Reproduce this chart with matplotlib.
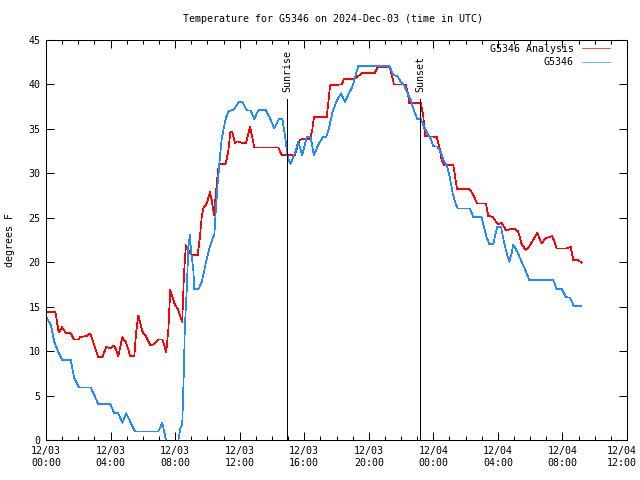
import matplotlib
matplotlib.use("Agg")
import matplotlib.pyplot as plt
from matplotlib.ticker import MultipleLocator
import matplotlib.transforms as mtransforms

# hours since 2024-12-03 00:00 UTC
analysis_t = [0.0, 0.58, 0.79, 0.99, 1.24, 1.53, 1.75, 2.0, 2.13, 2.52, 2.74, 2.99, 3.24, 3.49, 3.74,
              3.98, 4.23, 4.48, 4.73, 4.97, 5.22, 5.47, 5.59, 5.72, 5.97, 6.21, 6.46, 6.71, 6.96, 7.21,
              7.45, 7.58, 7.70, 7.95, 8.20, 8.44, 8.55, 8.67, 8.82, 8.92, 9.13, 9.40, 9.54, 9.65, 9.75,
              9.96, 10.16, 10.27, 10.41, 10.51, 10.64, 10.72, 11.13, 11.29, 11.42, 11.54, 11.71, 11.85,
              12.12, 12.39, 12.64, 12.91, 14.39, 14.60, 15.43, 15.57, 15.74, 15.94, 16.36, 16.50, 16.60,
              17.39, 17.53, 17.60, 18.32, 18.46, 19.08, 19.62, 20.38, 20.53, 21.31, 21.45, 21.56, 22.30,
              22.45, 22.51, 23.22, 23.38, 23.48, 24.21, 24.37, 24.51, 24.68, 25.24, 25.38, 25.48, 26.27,
              26.52, 26.72, 27.26, 27.40, 27.68, 27.99, 28.23, 28.50, 29.00, 29.26, 29.47, 29.72, 29.94,
              30.44, 30.71, 30.96, 31.37, 31.64, 32.26, 32.51, 32.67, 32.94, 33.19]
analysis_v = [14.4, 14.4, 12.1, 12.7, 12.0, 12.0, 11.3, 11.3, 11.6, 11.7, 12.0, 10.7, 9.3, 9.3, 10.5,
              10.3, 10.65, 9.45, 11.55, 10.95, 9.45, 9.45, 12.2, 14.0, 12.2, 11.6, 10.65, 10.8, 11.3, 11.3,
              9.9, 12.4, 16.9, 15.4, 14.6, 13.3, 18.7, 21.9, 21.4, 21.0, 20.8, 20.8, 22.9, 25.1, 26.1,
              26.6, 27.9, 27.0, 25.3, 27.4, 30.0, 31.05, 31.05, 32.4, 34.6, 34.7, 33.4, 33.6,
              33.45, 33.4, 35.25, 32.9, 32.9, 32.1, 32.05, 33.0, 33.75, 33.9, 33.9, 34.9, 36.3,
              36.3, 38.6, 39.9, 40.0, 40.6, 40.6, 41.3, 41.3, 41.9, 41.9, 40.9, 40.0, 40.0,
              38.7, 37.9, 37.9, 36.45, 34.2, 34.1, 33.0, 31.5, 30.9, 30.9, 29.25, 28.2, 28.2,
              27.4, 26.6, 26.6, 25.2, 25.1, 24.25, 24.45, 23.6, 23.8, 23.45, 22.05, 21.4, 21.75,
              23.3, 22.1, 22.7, 22.95, 21.55, 21.55, 21.75, 20.25, 20.25, 19.95]

obs_t = [0.0, 0.31, 0.51, 0.76, 1.01, 1.53, 1.75, 2.04, 2.77, 2.99, 3.24, 3.98, 4.23, 4.48, 4.73,
         4.97, 5.22, 5.51, 6.96, 7.21, 7.45, 7.70, 7.95, 8.20, 8.32, 8.44, 8.55, 8.60, 8.72, 8.82,
         8.92, 8.98, 9.13, 9.19, 9.44, 9.65, 9.81, 9.96, 10.16, 10.33, 10.43, 10.51, 10.64, 10.78,
         10.88, 11.03, 11.13, 11.29, 11.54, 11.65, 11.96, 12.16, 12.43, 12.68, 12.91, 13.15, 13.63,
         13.88, 14.14, 14.44, 14.65, 14.84, 14.96, 15.15, 15.43, 15.63, 15.88, 16.15, 16.40, 16.60,
         16.87, 17.14, 17.35, 17.53, 17.76, 18.05, 18.28, 18.52, 18.77, 18.98, 19.19, 19.35, 21.27,
         21.52, 21.77, 21.98, 22.18, 22.35, 22.60, 22.80, 23.00, 23.22, 23.38, 23.63, 23.84, 24.00,
         24.25, 24.46, 24.62, 24.86, 25.03, 25.20, 25.34, 25.51, 26.27, 26.47, 26.99, 27.26, 27.46,
         27.71, 27.96, 28.19, 28.44, 28.70, 28.85, 28.95, 29.20, 29.47, 29.74, 29.94, 31.43, 31.64,
         31.95, 32.20, 32.47, 32.71, 33.19]
obs_v = [13.9, 12.9, 11.05, 9.9, 9.0, 9.0, 6.95, 5.9, 5.9, 5.05, 4.05, 4.05, 3.0, 3.0, 1.95,
         3.0, 2.05, 0.95, 0.95, 1.95, -0.2, -1.5, -1.5, -0.1, 1.3, 1.7, 8.3, 12.6, 16.9, 21.75,
         23.05, 21.4, 19.1, 16.95, 16.95, 17.8, 19.1, 20.4, 21.75, 22.7, 23.05, 25.5, 28.9, 31.9,
         33.75, 35.25, 36.1, 36.95, 37.1, 37.2, 38.05, 38.05, 37.1, 37.05, 36.1, 37.1, 37.1,
         36.2, 35.05, 36.1, 36.1, 33.8, 31.95, 31.05, 32.3, 33.55, 32.05, 34.05, 34.05, 32.05,
         33.2, 34.05, 34.05, 35.05, 36.95, 38.3, 39.0, 38.05, 39.0, 39.75, 41.05, 42.1, 42.1,
         41.05, 40.95, 40.3, 39.95, 39.2, 38.25, 37.1, 36.1, 36.1, 35.45, 34.5, 33.9, 33.05,
         33.0, 32.4, 31.5, 30.75, 29.45, 27.75, 26.8, 26.05, 26.05, 25.1, 25.1, 23.05, 22.05,
         22.05, 24.0, 24.0, 21.75, 20.05, 21.0, 22.0, 21.2, 20.05, 18.95, 18.0, 18.0, 17.0,
         17.0, 16.1, 16.0, 15.05, 15.05]

sun_events = ["Sunrise", "Sunset"]
sun_times = [14.93, 23.17]
sun_top = 38.4

xtick_hours = [0, 4, 8, 12, 16, 20, 24, 28, 32, 36]
xtick_labels = ["12/03\n00:00", "12/03\n04:00", "12/03\n08:00", "12/03\n12:00", "12/03\n16:00",
                "12/03\n20:00", "12/04\n00:00", "12/04\n04:00", "12/04\n08:00", "12/04\n12:00"]

FONT = "DejaVu Sans Mono"
FS = 7.2
LW = 0.5
plt.rcParams['font.family'] = FONT

fig = plt.figure(figsize=(6.4, 4.8), dpi=100)
ax = fig.add_axes([46/640, 40/480, (627-46)/640, 400/480])

ax.plot(analysis_t, analysis_v, color="#ff0000", lw=LW, label="G5346 Analysis", antialiased=False)
ax.plot(obs_t, obs_v, color="#1e8cff", lw=LW, label="G5346", antialiased=False)

for name, t in zip(sun_events, sun_times):
    ax.plot([t, t], [0, sun_top], color="black", lw=LW, antialiased=False)
    ax.text(t, sun_top + 0.7, name, rotation=90, ha="center", va="bottom", fontsize=FS)

ax.set_xlim(0, 36)
ax.set_ylim(0, 45)
ax.set_xticks(xtick_hours)
ax.set_xticklabels(xtick_labels, fontsize=FS, linespacing=1.3)
ax.xaxis.set_minor_locator(MultipleLocator(1))
ax.set_yticks(range(0, 46, 5))
ax.tick_params(axis="y", labelsize=FS)
ax.tick_params(which="both", direction="in", top=True, right=True, width=0.75, color="black")
ax.tick_params(which="major", length=6, pad=4)
ax.tick_params(which="minor", length=3)
for s in ax.spines.values():
    s.set_linewidth(0.75)

# keep the last tick label inside the figure
last = ax.get_xticklabels()[-1]
last.set_transform(last.get_transform() + mtransforms.ScaledTranslation(-5/100, 0, fig.dpi_scale_trans))

ax.set_ylabel("degrees F", fontsize=FS)
ax.yaxis.set_label_coords((15 - 46) / 581, 0.5)
fig.text(333/640, 1 - 19/480, "Temperature for G5346 on 2024-Dec-03 (time in UTC)",
         ha="center", va="center", fontsize=FS)

leg = ax.legend(loc="upper right", frameon=False, markerfirst=False, fontsize=FS,
                handlelength=2.8, handletextpad=0.8, borderaxespad=0.3, labelspacing=0.35,
                bbox_to_anchor=(1 - 10/581, 1 + 3/400))

fig.savefig("out.png", dpi=100)
